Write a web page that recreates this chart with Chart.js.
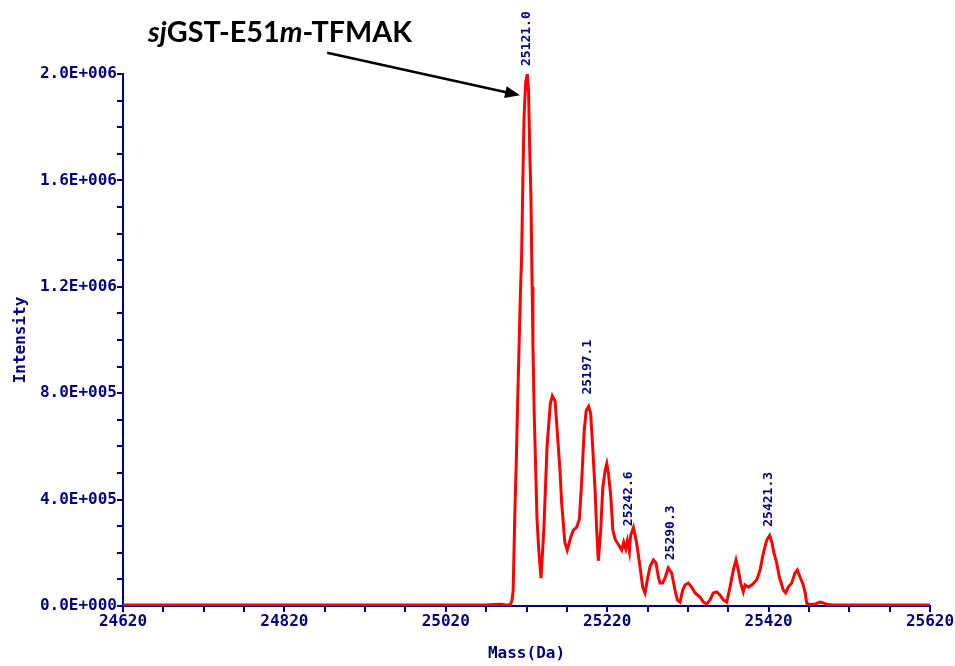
<!DOCTYPE html>
<html><head><meta charset="utf-8">
<script src="https://cdn.jsdelivr.net/npm/chart.js@4/dist/chart.umd.min.js"></script>
<style>html,body{margin:0;padding:0;background:#fff;} #wrap{width:955px;height:666px;}</style>
</head><body><div id="wrap"><canvas id="c" width="955" height="666"></canvas></div>
<script>
// ---- data ----
const masses = [24620,25070,25080,25088,25095,25100,25102,25103.5,25105.5,25107.5,25109,25111,25112.5,25114,25115.5,25117,25119,25121,25122.5,25124,25125.5,25127,25128,25129.5,25131,25133,25135,25136.5,25138,25139.5,25141.5,25145.5,25149.5,25152,25155.5,25158,25161.5,25163.5,25167.5,25170.5,25175,25178,25182,25185.5,25188.5,25191.5,25194,25197,25199.5,25202,25205,25207,25209,25212,25214.5,25217.5,25219.5,25221.5,25224.5,25227,25230,25234,25238,25240.5,25243,25245,25247.5,25249,25252.5,25256.5,25260.7,25264,25266.9,25269.7,25273,25277.2,25280.5,25283.4,25285.5,25288.8,25291.6,25295.7,25299.9,25304,25306.9,25310.2,25313.6,25316.4,25320.5,25324.7,25328.8,25335,25339.1,25343.3,25347.4,25351.5,25355.7,25359.8,25363.9,25368.1,25372.2,25376.3,25379.6,25382.5,25385.4,25388.7,25390.8,25394.9,25399.1,25405.3,25409.4,25413.5,25417.7,25421.3,25423.9,25426.7,25430,25433.3,25438.2,25441.2,25444.4,25448.6,25452.7,25455.6,25458.9,25462.2,25465.1,25467.2,25470,25478,25484,25492,25500,25520,25620];
const intensities = [4000,4000,6000,7000,4000,5000,20000,60000,340000,560000,760000,1000000,1180000,1320000,1600000,1840000,1970000,2000000,1940000,1720000,1540000,1200000,980000,730000,560000,330000,220000,160000,105000,180000,290000,600000,760000,790000,770000,660000,510000,390000,240000,210000,260000,285000,295000,325000,475000,660000,735000,750000,725000,600000,435000,285000,170000,285000,445000,510000,535000,500000,410000,285000,250000,230000,210000,240000,215000,245000,205000,265000,295000,237000,147000,71000,49000,98000,147000,173000,162000,109000,86000,86000,105000,143000,124000,60000,23000,15000,60000,79000,86000,71000,49000,34000,15000,8000,23000,49000,53000,41000,23000,15000,71000,135000,173000,135000,86000,53000,79000,71000,79000,98000,135000,199000,248000,265000,241000,199000,162000,109000,60000,49000,71000,86000,124000,135000,109000,86000,53000,11000,6000,8000,15000,7000,4000,4000,4000];
const xMajorTicks = [24620,24820,25020,25220,25420,25620];
const xMinorStep = 50;
const yMajorTicks = [0,400000,800000,1200000,1600000,2000000];
const yMinorStep = 100000;
const peakLabels = ['25121.0','25197.1','25242.6','25290.3','25421.3'];
const peakLabelMass = [25120.6,25196.2,25247,25299,25420.5];
const peakLabelIntensity = [2030000,795000,300000,172000,298000];
const titleParts = [['sj',true],['GST-E51',false],['m',true],['-TFMAK',false]];
const titleAnchor = {mass:24651, intensity:2120000};
const arrowFrom = {mass:24873, intensity:2080000};
const arrowTo = {mass:25112, intensity:1920000};
const xTitle = 'Mass(Da)';
const yTitle = 'Intensity';

const NAVY = '#000080';
const MONO = '"DejaVu Sans Mono", monospace';

const xAllTicks = [];
for (let v = xMajorTicks[0]; v <= xMajorTicks[xMajorTicks.length-1]; v += xMinorStep) xAllTicks.push(v);
const yAllTicks = [];
for (let v = yMajorTicks[0]; v <= yMajorTicks[yMajorTicks.length-1]; v += yMinorStep) yAllTicks.push(v);

function sci(v){
  if (v === 0) return '0.0E+000';
  const e = Math.floor(Math.log10(v) + 1e-9);
  const m = v / Math.pow(10, e);
  return m.toFixed(1) + 'E+' + String(e).padStart(3,'0');
}

const points = masses.map((m,i)=>({x:m, y:intensities[i]}));

const annot = {
  id:'annot',
  afterDraw(chart){
    const ctx = chart.ctx, xs = chart.scales.x, ys = chart.scales.y;
    ctx.save();
    // peak labels
    ctx.fillStyle = NAVY;
    ctx.font = 'bold 13px ' + MONO;
    ctx.textAlign = 'left';
    ctx.textBaseline = 'middle';
    peakLabels.forEach((t,i)=>{
      const px = xs.getPixelForValue(peakLabelMass[i]);
      const py = ys.getPixelForValue(peakLabelIntensity[i]);
      ctx.save();
      ctx.translate(px, py);
      ctx.rotate(-Math.PI/2);
      ctx.fillText(t, 0, 0);
      ctx.restore();
    });
    // title
    const fam = 'Lato, "Open Sans", sans-serif';
    let base = 100, w = 0;
    titleParts.forEach(([s,it])=>{ ctx.font = (it?'italic ':'') + 'bold ' + base + 'px ' + fam; w += ctx.measureText(s).width; });
    const size = base * 264 / w;
    let tx = xs.getPixelForValue(titleAnchor.mass);
    const ty = ys.getPixelForValue(titleAnchor.intensity);
    ctx.fillStyle = '#000';
    ctx.textBaseline = 'alphabetic';
    titleParts.forEach(([s,it])=>{
      ctx.font = (it?'italic ':'') + 'bold ' + size.toFixed(2) + 'px ' + fam;
      ctx.fillText(s, tx, ty);
      tx += ctx.measureText(s).width;
    });
    // arrow
    const x1 = xs.getPixelForValue(arrowFrom.mass), y1 = ys.getPixelForValue(arrowFrom.intensity);
    const x2 = xs.getPixelForValue(arrowTo.mass), y2 = ys.getPixelForValue(arrowTo.intensity);
    const ang = Math.atan2(y2-y1, x2-x1);
    const hl = 15, hw = 6;
    ctx.strokeStyle = '#000';
    ctx.lineWidth = 2.5;
    ctx.beginPath();
    ctx.moveTo(x1,y1);
    ctx.lineTo(x2 - Math.cos(ang)*hl*0.8, y2 - Math.sin(ang)*hl*0.8);
    ctx.stroke();
    ctx.fillStyle = '#000';
    ctx.beginPath();
    ctx.moveTo(x2,y2);
    ctx.lineTo(x2 - Math.cos(ang)*hl - Math.sin(ang)*hw, y2 - Math.sin(ang)*hl + Math.cos(ang)*hw);
    ctx.lineTo(x2 - Math.cos(ang)*hl + Math.sin(ang)*hw, y2 - Math.sin(ang)*hl - Math.cos(ang)*hw);
    ctx.closePath();
    ctx.fill();
    ctx.restore();
  }
};

new Chart(document.getElementById('c'), {
  type:'line',
  data:{ datasets:[{ data: points, borderColor:'#ff0000', borderWidth:3, pointRadius:0, tension:0, fill:false }]},
  options:{
    responsive:false, animation:false, devicePixelRatio:1,
    layout:{ padding:{ top:74, right:25, left:0, bottom:0 } },
    plugins:{ legend:{display:false}, tooltip:{enabled:false} },
    scales:{
      x:{
        type:'linear', min:xMajorTicks[0], max:xMajorTicks[xMajorTicks.length-1],
        afterBuildTicks(s){ s.ticks = xAllTicks.map(v=>({value:v})); },
        afterFit(s){ s.height = 60; },
        grid:{ display:true, drawOnChartArea:false, drawTicks:true, tickLength:6, color:NAVY, lineWidth:2 },
        border:{ display:true, color:NAVY, width:2 },
        ticks:{ autoSkip:false, maxRotation:0, minRotation:0, padding:0, color:NAVY,
          font:{ family:MONO, size:16, weight:'bold' },
          callback:(v)=> xMajorTicks.includes(v) ? String(v) : '' },
        title:{ display:true, text:xTitle, color:NAVY, font:{ family:MONO, size:16, weight:'bold' }, padding:{top:0,bottom:3} }
      },
      y:{
        min:yMajorTicks[0], max:yMajorTicks[yMajorTicks.length-1],
        afterBuildTicks(s){ s.ticks = yAllTicks.map(v=>({value:v})); },
        afterFit(s){ s.width = 123; },
        grid:{ display:true, drawOnChartArea:false, drawTicks:true, tickLength:6, color:NAVY, lineWidth:2 },
        border:{ display:true, color:NAVY, width:2 },
        ticks:{ autoSkip:false, padding:0, color:NAVY,
          font:{ family:MONO, size:16, weight:'bold' },
          callback:(v)=> yMajorTicks.includes(v) ? sci(v) : '' },
        title:{ display:true, text:yTitle, color:NAVY, font:{ family:MONO, size:16, weight:'bold' }, padding:{top:11,bottom:0} }
      }
    }
  },
  plugins:[annot]
});
</script>
</body></html>
